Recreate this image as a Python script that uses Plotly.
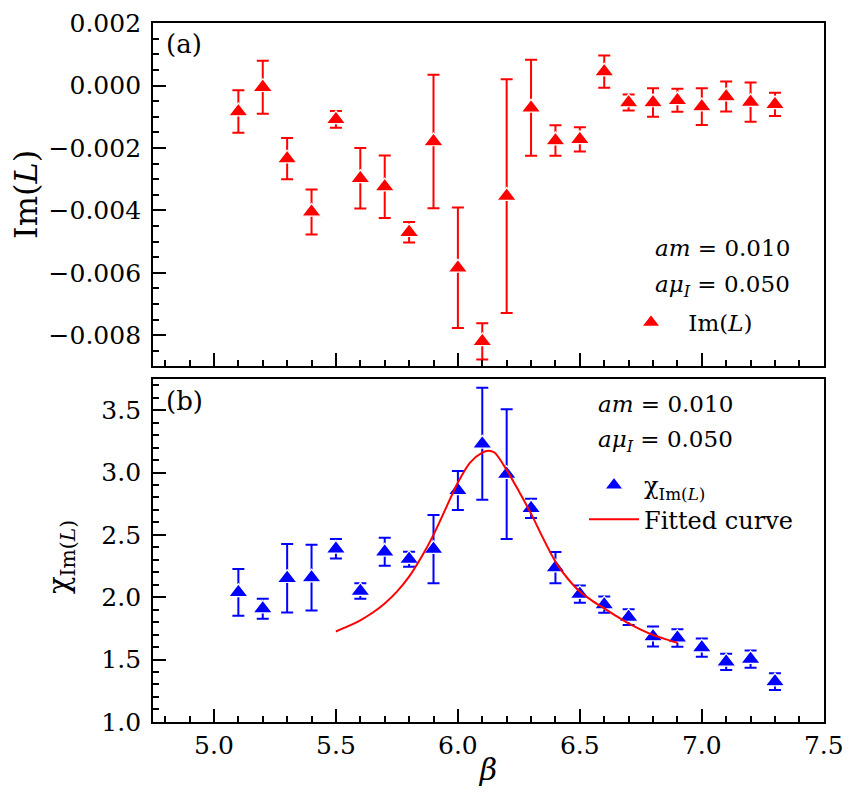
import plotly.graph_objects as go

# ---------------- data ----------------
beta = [5.1, 5.2, 5.3, 5.4, 5.5, 5.6, 5.7, 5.8, 5.9, 6.0, 6.1, 6.2,
        6.3, 6.4, 6.5, 6.6, 6.7, 6.8, 6.9, 7.0, 7.1, 7.2, 7.3]

im_L = [-0.00083, -0.00005, -0.00234, -0.00405, -0.00108, -0.00297, -0.00324,
        -0.00470, -0.00179, -0.00584, -0.00820, -0.00354, -0.00071, -0.00176,
        -0.00172, 0.00045, -0.00054, -0.00054, -0.00047, -0.00067, -0.00035,
        -0.00053, -0.00060]
im_L_err = [0.00068, 0.00085, 0.00066, 0.00072, 0.00027, 0.00097, 0.00100,
            0.00033, 0.00214, 0.00193, 0.00058, 0.00375, 0.00154, 0.00049,
            0.00039, 0.00052, 0.00026, 0.00046, 0.00037, 0.00059, 0.00048,
            0.00063, 0.00037]

chi = [2.039, 1.908, 2.152, 2.157, 2.388, 2.049, 2.364, 2.305, 2.385, 2.856,
       3.230, 2.987, 2.713, 2.237, 2.024, 1.940, 1.840, 1.684, 1.673, 1.595,
       1.481, 1.503, 1.323]
chi_err = [0.187, 0.080, 0.275, 0.264, 0.078, 0.062, 0.112, 0.060, 0.274,
           0.157, 0.449, 0.521, 0.077, 0.125, 0.069, 0.065, 0.063, 0.080,
           0.070, 0.073, 0.065, 0.069, 0.067]

fit_beta = [5.5, 5.55, 5.6, 5.65, 5.7, 5.75, 5.8, 5.85, 5.9, 5.95, 6.0, 6.05,
            6.1, 6.125, 6.15, 6.2, 6.25, 6.3, 6.35, 6.4, 6.45, 6.5, 6.55, 6.6,
            6.65, 6.7, 6.75, 6.8, 6.85, 6.9]
fit_chi = [1.725, 1.768, 1.815, 1.875, 1.95, 2.045, 2.165, 2.32, 2.50, 2.71,
           2.92, 3.08, 3.16, 3.174, 3.16, 3.02, 2.85, 2.67, 2.47, 2.285, 2.15,
           2.045, 1.972, 1.91, 1.848, 1.79, 1.74, 1.697, 1.664, 1.635]

# ---------------- styling ----------------
FONT = "DejaVu Serif"
RED = "#ff0000"
BLUE = "#0000ff"

fig = go.Figure()

fig.add_trace(go.Scatter(
    x=beta, y=im_L, mode="markers", name=" Im(<i>L</i>)",
    xaxis="x", yaxis="y", legend="legend",
    marker=dict(symbol="triangle-up", size=17, color=RED,
                line=dict(color="white", width=1.2)),
    error_y=dict(type="data", array=im_L_err, color=RED, thickness=2, width=6),
))

fig.add_trace(go.Scatter(
    x=beta, y=chi, mode="markers", name="χ<sub>Im(<i>L</i>)</sub>",
    xaxis="x2", yaxis="y2", legend="legend2",
    marker=dict(symbol="triangle-up", size=17, color=BLUE,
                line=dict(color="white", width=1.2)),
    error_y=dict(type="data", array=chi_err, color=BLUE, thickness=2, width=6),
))

fig.add_trace(go.Scatter(
    x=fit_beta, y=fit_chi, mode="lines", name="Fitted curve",
    xaxis="x2", yaxis="y2", legend="legend2",
    line=dict(color=RED, width=2, shape="spline", smoothing=0.8),
))

axis_common = dict(
    showline=True, linewidth=1.8, linecolor="black", mirror=True,
    ticks="inside", ticklen=13, tickwidth=1.5, tickcolor="black",
    showgrid=False, zeroline=False, automargin=False,
    tickfont=dict(family=FONT, size=25, color="black"),
)
minor_common = dict(ticks="inside", ticklen=6, tickwidth=1.5, tickcolor="black")

# screen plot area: x 153..824, y 23..722 (page body adds an 8 px offset)
top_dom = [(722 - 366) / 699, 1.0]
bot_dom = [0.0, (722 - 379) / 699]


def px_x(px):
    return (px - 153) / 671


def px_y(py):
    return (722 - py) / 699


fig.update_layout(
    width=847, height=784,
    margin=dict(l=145, r=31, t=15, b=70, autoexpand=False),
    paper_bgcolor="white", plot_bgcolor="white",
    font=dict(family=FONT, color="black"),
    xaxis=dict(axis_common, domain=[0, 1], anchor="y", range=[4.75, 7.501],
               tick0=5.0, dtick=0.5, showticklabels=False,
               minor=dict(minor_common, dtick=0.1)),
    yaxis=dict(axis_common, domain=top_dom, anchor="x",
               range=[-0.00899, 0.00201], tick0=0, dtick=0.002, tickformat=".3f",
               ticklabelstandoff=5,
               minor=dict(minor_common, dtick=0.0005)),
    xaxis2=dict(axis_common, domain=[0, 1], anchor="y2", range=[4.75, 7.501],
                tick0=5.0, dtick=0.5, tickformat=".1f",
                minor=dict(minor_common, dtick=0.1),
                title=dict(text="<i>β</i>", font=dict(family=FONT, size=30),
                           standoff=0)),
    yaxis2=dict(axis_common, domain=bot_dom, anchor="x2",
                range=[0.999, 3.75], tick0=1.0, dtick=0.5, tickformat=".1f",
                ticklabelstandoff=5,
                minor=dict(minor_common, dtick=0.1)),
    legend=dict(x=px_x(621), y=px_y(301), xanchor="left", yanchor="top",
                bgcolor="rgba(0,0,0,0)", borderwidth=0, itemwidth=50,
                font=dict(family=FONT, size=23)),
    legend2=dict(x=px_x(584), y=px_y(463), xanchor="left", yanchor="top",
                 bgcolor="rgba(0,0,0,0)", borderwidth=0, itemwidth=50,
                 font=dict(family=FONT, size=24)),
    showlegend=True,
)

ann_font = dict(family=FONT, size=23, color="black")
annotations = [
    # y-axis titles
    dict(text="Im(<i>L</i>)", xref="paper", yref="paper", x=px_x(26),
         y=px_y(195), xanchor="center", yanchor="middle", textangle=-90,
         showarrow=False, font=dict(family=FONT, size=32, color="black")),
    dict(text="χ<sub>Im(<i>L</i>)</sub>", xref="paper", yref="paper",
         x=px_x(61), y=px_y(557), xanchor="center", yanchor="middle",
         textangle=-90, showarrow=False,
         font=dict(family=FONT, size=29, color="black")),
    # panel labels
    dict(text="(a)", xref="paper", yref="paper", x=px_x(164),
         y=px_y(27), xanchor="left", yanchor="top", showarrow=False,
         font=dict(family=FONT, size=26, color="black")),
    dict(text="(b)", xref="paper", yref="paper", x=px_x(164),
         y=px_y(384), xanchor="left", yanchor="top", showarrow=False,
         font=dict(family=FONT, size=26, color="black")),
    # parameter labels
    dict(text="<i>am</i> = 0.010", xref="paper", yref="paper",
         x=px_x(792), y=px_y(248), xanchor="right",
         yanchor="middle", showarrow=False, font=ann_font),
    dict(text="<i>aμ</i><sub><i>I</i></sub> = 0.050", xref="paper", yref="paper",
         x=px_x(792), y=px_y(286), xanchor="right",
         yanchor="middle", showarrow=False, font=ann_font),
    dict(text="<i>am</i> = 0.010", xref="paper", yref="paper",
         x=px_x(596), y=px_y(404), xanchor="left",
         yanchor="middle", showarrow=False, font=ann_font),
    dict(text="<i>aμ</i><sub><i>I</i></sub> = 0.050", xref="paper", yref="paper",
         x=px_x(596), y=px_y(441), xanchor="left",
         yanchor="middle", showarrow=False, font=ann_font),
]
fig.update_layout(annotations=annotations)

fig.write_html("out.html")
